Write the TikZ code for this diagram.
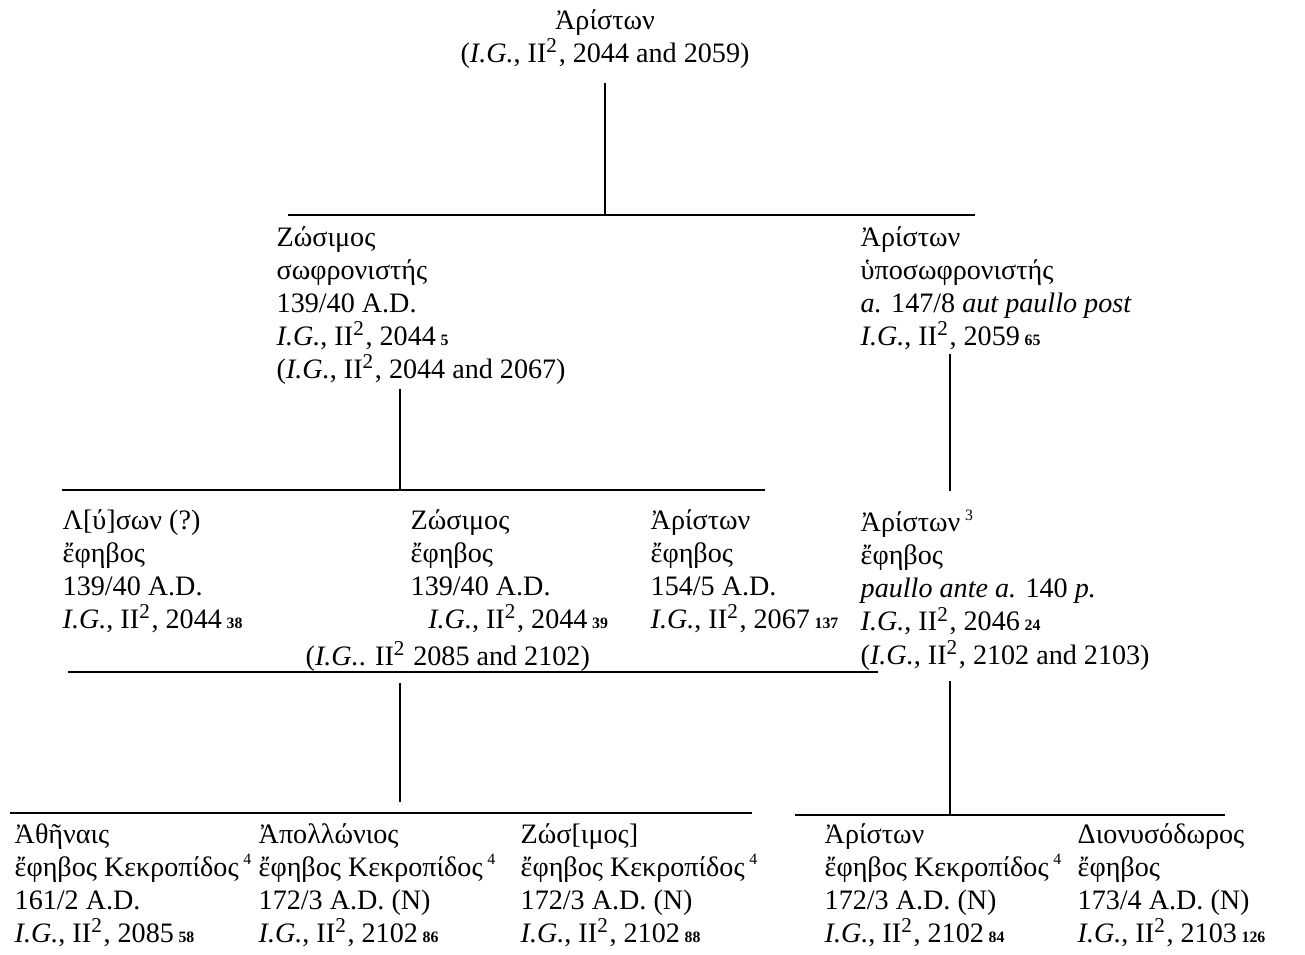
\documentclass[tikz,border=0pt]{standalone}
\usepackage{fontspec}
\setmainfont{Liberation Serif}
\newcommand{\ig}{\textit{I.G.}, II\textsuperscript{2},}
\newcommand{\subno}[1]{\,{\fontsize{4.5}{5}\selectfont\bfseries #1}}
\newcommand{\fnmark}[1]{\,\raisebox{0.9ex}{\fontsize{4.5}{5}\selectfont #1}}
\tikzset{
	person/.style={anchor=north west, inner sep=0pt, align=left, font=\fontsize{8}{9.4}\selectfont},
	bar/.style={line width=0.6pt},
	stem/.style={line width=0.3pt}
}

\begin{document}
\begin{tikzpicture}[x=0.01cm,y=-0.01cm]
		\useasboundingbox (0,0) rectangle (1305,955);
		
		\node[person, anchor=north, align=center] (ariston1) at (605,9) {Ἀρίστων\\(\textit{I.G.}, II\textsuperscript{2}, 2044 and 2059)};
		
		\node[person] (zosimos1) at (276,226) {Ζώσιμος\\σωφρονιστής\\139/40 A.D.\\\ig{} 2044\subno{5}\\(\textit{I.G.}, II\textsuperscript{2}, 2044 and 2067)};
		\node[person] (ariston2) at (860,226) {Ἀρίστων\\ὑποσωφρονιστής\\\textit{a.} 147/8 \textit{aut paullo post}\\\ig{} 2059\subno{65}};
		
		\node[person] (lysun) at (62,509) {Λ[ύ]σων (?)\\ἔφηβος\\139/40 A.D.\\\ig{} 2044\subno{38}};
		\node[person] (zosimos2) at (410,509) {Ζώσιμος\\ἔφηβος\\139/40 A.D.\\\hspace*{5pt}\ig{} 2044\subno{39}};
		\node[person] (zosimos2ref) at (305,641) {(\textit{I.G.}. II\textsuperscript{2} 2085 and 2102)};
		\node[person] (ariston4) at (650,509) {Ἀρίστων\\ἔφηβος\\154/5 A.D.\\\ig{} 2067\subno{137}};
		\node[person] (ariston3) at (860,509) {Ἀρίστων\fnmark{3}\\ἔφηβος\\\textit{paullo ante a.} 140 \textit{p.}\\\ig{} 2046\subno{24}\\(\textit{I.G.}, II\textsuperscript{2}, 2102 and 2103)};
		
		\node[person] (athenais) at (14,823) {Ἀθῆναις\\ἔφηβος Κεκροπίδος\fnmark{4}\\161/2 A.D.\\\ig{} 2085\subno{58}};
		\node[person] (apollonios) at (258,823) {Ἀπολλώνιος\\ἔφηβος Κεκροπίδος\fnmark{4}\\172/3 A.D. (N)\\\ig{} 2102\subno{86}};
		\node[person] (zosimos3) at (520,823) {Ζώσ[ιμος]\\ἔφηβος Κεκροπίδος\fnmark{4}\\172/3 A.D. (N)\\\ig{} 2102\subno{88}};
		\node[person] (ariston5) at (824,823) {Ἀρίστων\\ἔφηβος Κεκροπίδος\fnmark{4}\\172/3 A.D. (N)\\\ig{} 2102\subno{84}};
		\node[person] (dionysodoros) at (1077,823) {Διονυσόδωρος\\ἔφηβος\\173/4 A.D. (N)\\\ig{} 2103\subno{126}};
		
		% bars
		\coordinate (b1l) at (288,215);
		\coordinate (b1r) at (975,215);
		\coordinate (b2l) at (62,490);
		\coordinate (b2r) at (765,490);
		\coordinate (b3l) at (68,672);
		\coordinate (b3r) at (878,672);
		\coordinate (b4l) at (10,813);
		\coordinate (b4r) at (752,813);
		\coordinate (b5l) at (795,815);
		\coordinate (b5r) at (1225,815);
		\draw[bar] (b1l) -- (b1r);
		\draw[bar] (b2l) -- (b2r);
		\draw[bar] (b3l) -- (b3r);
		\draw[bar] (b4l) -- (b4r);
		\draw[bar] (b5l) -- (b5r);
		
		% stems
		\coordinate (j2) at (400,490);
		\coordinate (j3) at (950,490);
		\coordinate (j4) at (400,672);
		\draw[stem, shorten <=4pt] (ariston1.south) -- (ariston1.south |- b1l);
		\draw[stem, shorten <=1pt] (j2 |- zosimos1.south) -- (j2);
		\draw[stem, shorten <=1pt, shorten >=5pt] (j3 |- ariston2.south) -- (j3 |- ariston3.north);
		\draw[stem, shorten <=3pt, shorten >=3pt] (j4) -- (j4 |- b4l);
		\draw[stem, shorten <=3pt] (j3 |- ariston3.south) -- (j3 |- b5l);
	\end{tikzpicture}
\end{document}
